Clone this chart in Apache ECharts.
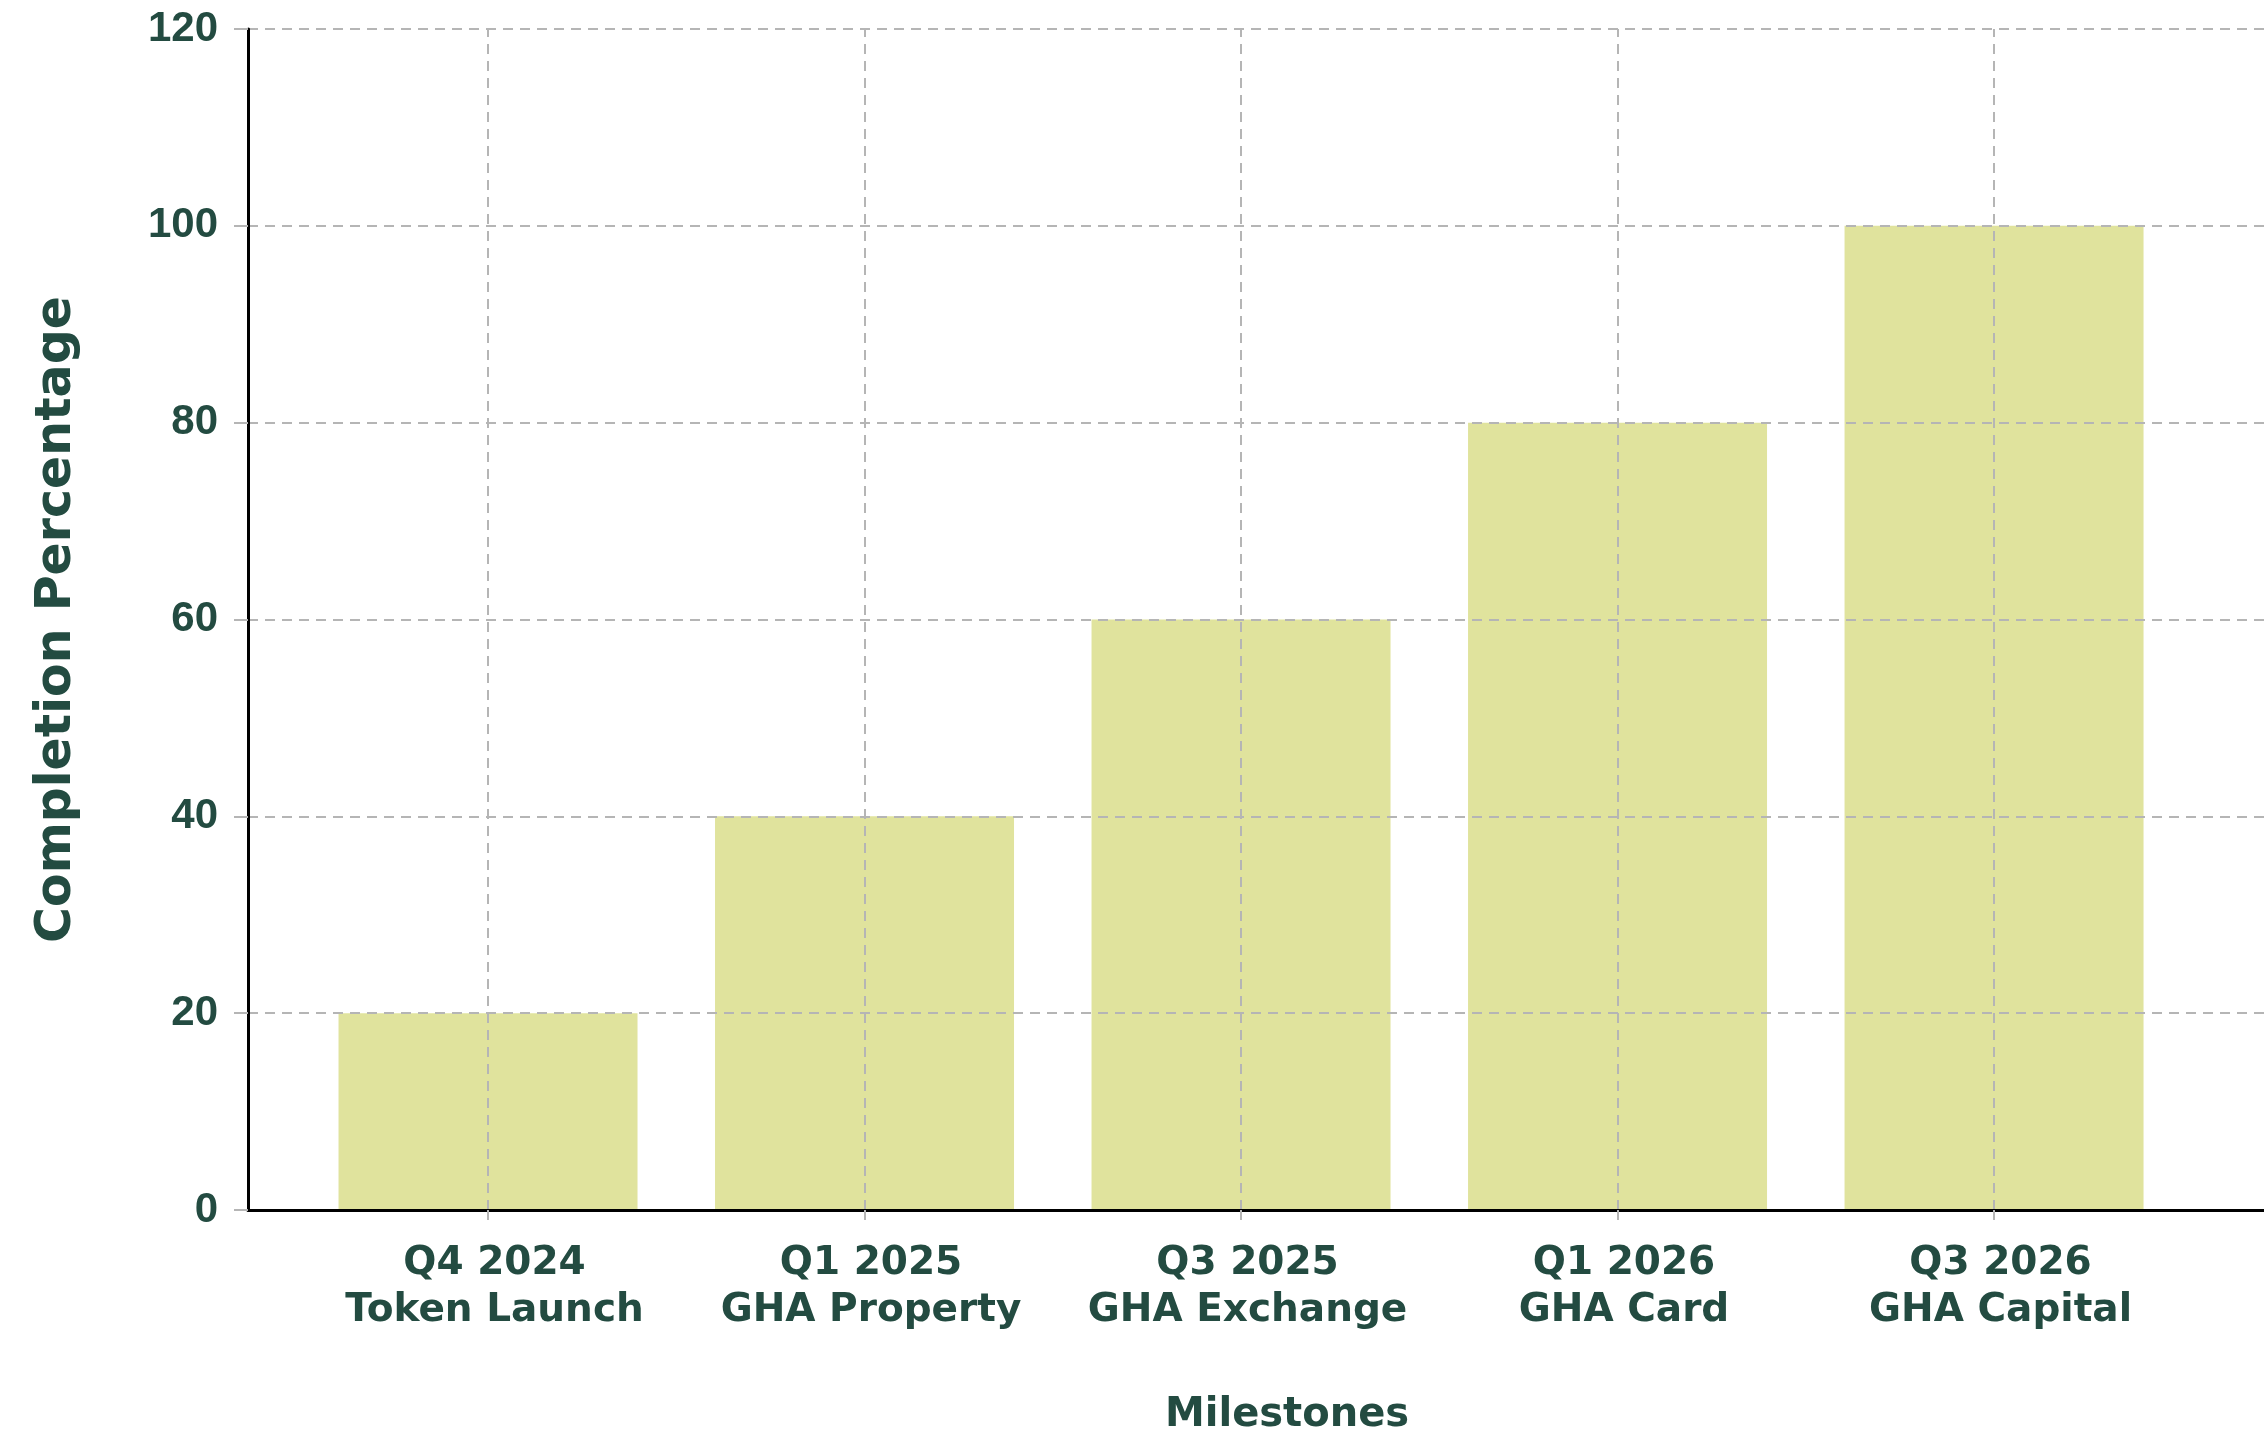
<!DOCTYPE html>
<html>
<head>
<meta charset="utf-8">
<script src="https://cdn.jsdelivr.net/npm/echarts@6/dist/echarts.min.js"></script>
<style>
  html, body { margin: 0; padding: 0; background: #fff; }
  #chart { width: 2264px; height: 1441px; }
</style>
</head>
<body>
<div id="chart"></div>
<script>
const quarters = ['Q4 2024', 'Q1 2025', 'Q3 2025', 'Q1 2026', 'Q3 2026']
const milestones = ['Token Launch', 'GHA Property', 'GHA Exchange', 'GHA Card', 'GHA Capital']
const completion = [20, 40, 60, 80, 100]
const yTicks = [0, 20, 40, 60, 80, 100, 120]

const textColor = '#234b41'
const gridColor = '#b5b5b5'
const positions = quarters.map((q, i) => i)

const chart = echarts.init(document.getElementById('chart'))
chart.setOption({
  backgroundColor: '#ffffff',
  animation: false,
  grid: {
    left: 248,
    right: 0,
    top: 29,
    bottom: 225
  },
  xAxis: {
    type: 'value',
    min: -0.6375,
    max: 4.717,
    z: 6,
    name: 'Milestones',
    nameLocation: 'middle',
    nameGap: 186,
    nameTextStyle: {
      fontFamily: 'DejaVu Sans',
      fontWeight: 'bold',
      fontSize: 40,
      color: textColor,
      padding: [0, 0, 0, 62]
    },
    axisLine: { show: true, onZero: false, lineStyle: { color: '#000', width: 3 } },
    axisTick: {
      show: true,
      customValues: positions,
      length: 14,
      lineStyle: { color: gridColor, width: 2, type: [10, 6] }
    },
    axisLabel: {
      customValues: positions,
      margin: 30,
      fontFamily: 'DejaVu Sans',
      fontWeight: 'bold',
      fontSize: 39,
      lineHeight: 47,
      color: textColor,
      padding: [0, 0, 0, 13],
      formatter: function (value) {
        const i = Math.round(value)
        return quarters[i] + '\n' + milestones[i]
      }
    },
    splitLine: { show: false }
  },
  yAxis: {
    type: 'value',
    min: yTicks[0],
    max: yTicks[yTicks.length - 1],
    interval: 20,
    z: 6,
    name: 'Completion Percentage',
    nameLocation: 'middle',
    nameGap: 166,
    nameTextStyle: {
      fontFamily: 'DejaVu Sans',
      fontWeight: 'bold',
      fontSize: 49,
      color: textColor
    },
    axisLine: { show: true, onZero: false, lineStyle: { color: '#000', width: 3 } },
    axisTick: {
      show: true,
      length: 14,
      lineStyle: { color: gridColor, width: 2 }
    },
    axisLabel: {
      margin: 30,
      fontFamily: 'Liberation Sans',
      fontWeight: 'bold',
      fontSize: 42,
      color: textColor
    },
    splitLine: {
      show: true,
      lineStyle: { color: gridColor, width: 2, type: [10, 7] }
    }
  },
  series: [{
    type: 'bar',
    z: 2,
    barWidth: 299,
    itemStyle: { color: '#e0e39d' },
    data: completion.map((v, i) => [i, v]),
    markLine: {
      silent: true,
      symbol: ['none', 'none'],
      label: { show: false },
      lineStyle: { color: gridColor, width: 2, type: [10, 7] },
      data: positions.map(p => ({ xAxis: p }))
    }
  }]
})
</script>
</body>
</html>
